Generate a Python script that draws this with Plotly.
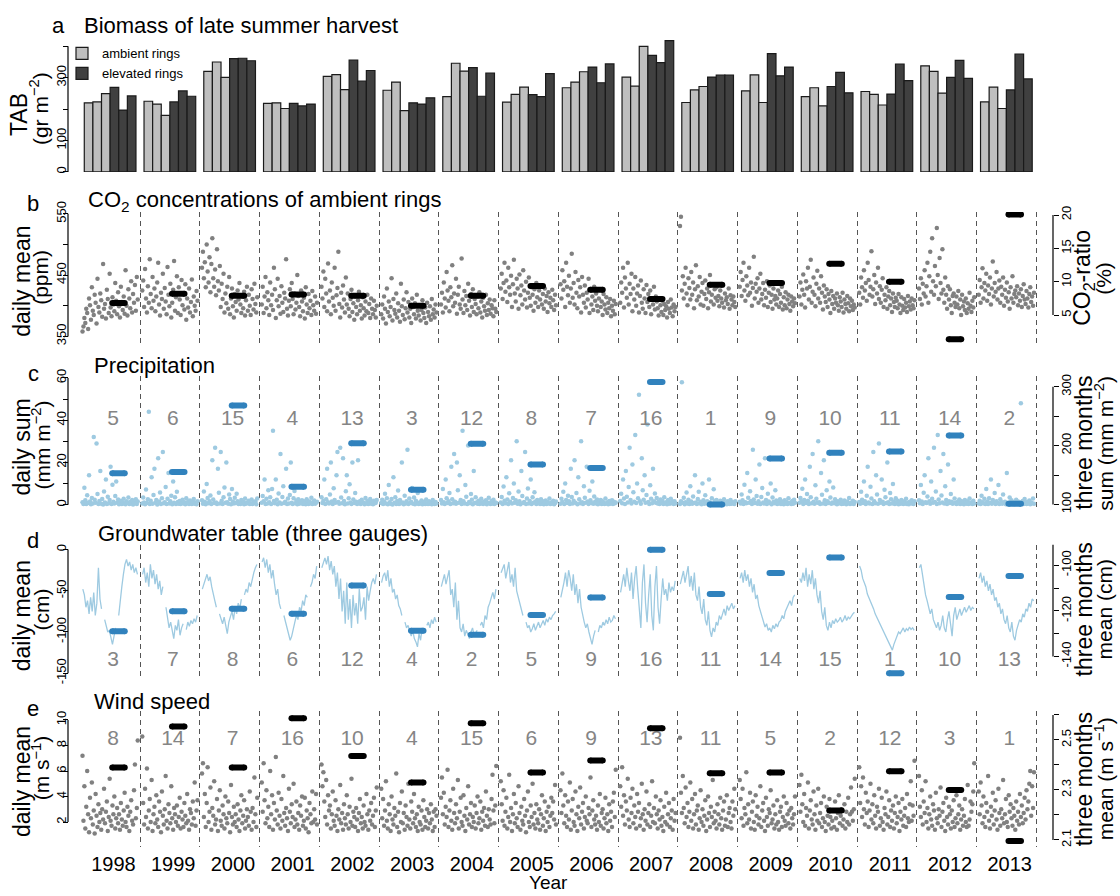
import plotly.graph_objects as go

# ---------------- data ----------------
years = list(range(1998, 2014))
year_labels = [str(y) for y in years]

# panel a: TAB (gr m-2), three ambient and three elevated rings
ambient_1 = [220, 225, 320, 218, 304, 260, 240, 222, 268, 302, 221, 258, 240, 256, 338, 223]
ambient_2 = [223, 216, 350, 220, 310, 286, 346, 247, 286, 273, 261, 309, 268, 247, 320, 270]
ambient_3 = [249, 180, 301, 202, 262, 195, 321, 270, 319, 400, 272, 221, 210, 213, 251, 202]
elevated_1 = [269, 223, 361, 218, 356, 220, 332, 246, 334, 371, 302, 377, 272, 248, 301, 261]
elevated_2 = [197, 258, 362, 210, 289, 216, 241, 240, 284, 348, 308, 306, 317, 343, 355, 375]
elevated_3 = [242, 241, 354, 216, 323, 236, 315, 313, 344, 418, 308, 334, 252, 291, 298, 296]

# yearly summary values (right axes)
co2_ratio = [6.8, 8.2, 7.9, 8.1, 7.9, 6.4, 7.9, 9.35, 8.8, 7.4, 9.55, 9.8, 12.7, 10.0, 1.4, 20.1]
precip_3m = [153, 155, 268, 130, 204, 125, 203, 168, 162, 308, 100, 178, 188, 190, 217, 101]
gw_3m = [-128.9, -120.1, -119.1, -121.2, -108.9, -128.7, -130.5, -121.8, -114.1, -93.2,
         -112.6, -103.4, -96.6, -147.3, -113.9, -104.7]
wind_3m = [2.39, 2.554, 2.39, 2.587, 2.436, 2.33, 2.567, 2.37, 2.418, 2.547, 2.367, 2.37,
           2.218, 2.375, 2.30, 2.096]

rank_precip = [5, 6, 15, 4, 13, 3, 12, 8, 7, 16, 1, 9, 10, 11, 14, 2]
rank_gw = [3, 7, 8, 6, 12, 4, 2, 5, 9, 16, 11, 14, 15, 1, 10, 13]
rank_wind = [8, 14, 7, 16, 10, 4, 15, 6, 9, 13, 11, 5, 2, 12, 3, 1]

# daily CO2 (ppm), sampled through each year
co2_1998 = [358,366,380,372,395,388,362,412,401,377,430,392,385,418,405,371,444,398,389,420,409,382,468,395,403,379,426,411,388,452,397,383,414,402,391,437,408,386,422,399,381,431,406,393,415,387,458,400,384,427,412,396,440,389,419,405,434,392,447,410]
co2_1999 = [425,441,398,460,412,389,432,405,476,419,396,447,408,428,391,415,438,470,402,384,421,411,452,395,429,407,386,463,418,399,436,381,405,426,473,392,414,448,388,430,410,385,442,401,419,394,435,377,412,397,428,389,406,443,383,415,400,392,424,408]
co2_2000 = [462,488,445,471,430,500,456,438,479,422,468,510,445,431,459,417,492,440,425,465,398,436,411,452,389,420,404,431,395,447,386,412,428,399,381,419,406,392,425,410,437,402,388,415,396,423,384,409,431,392,418,400,385,427,411,394,436,403,389,414]
co2_2001 = [402,431,388,415,447,396,422,409,385,438,401,418,393,462,427,380,409,444,399,416,387,432,405,390,421,412,476,395,384,408,427,399,437,411,386,420,394,405,450,416,398,383,425,407,391,413,379,430,402,388,419,396,408,385,424,401,392,415,387,405]
co2_2002 = [431,412,456,398,444,420,391,469,407,425,386,438,413,400,462,392,417,429,488,403,381,421,397,433,410,389,446,402,420,395,383,411,426,390,404,377,415,398,386,409,423,392,401,379,414,396,384,407,391,418,388,403,380,412,395,386,408,393,381,400]
co2_2003 = [386,402,379,415,395,371,428,390,407,383,398,445,376,411,393,387,420,381,404,392,374,436,399,385,410,378,396,422,389,406,381,395,372,412,398,386,404,379,418,392,384,401,376,393,409,388,380,397,372,405,390,383,399,377,411,386,394,381,402,389]
co2_2004 = [402,421,389,438,412,397,455,425,408,391,430,414,466,399,420,405,444,387,418,431,402,395,477,410,388,424,401,416,393,436,408,384,419,398,427,390,411,403,386,415,396,422,389,407,381,413,399,392,418,385,404,393,410,387,401,396,383,409,395,390]
co2_2005 = [428,452,411,437,470,423,441,406,462,430,418,449,398,435,475,420,407,444,428,395,451,417,433,402,458,425,410,439,397,421,446,413,400,430,418,392,427,405,437,414,398,425,410,433,402,419,395,428,407,416,390,422,404,413,398,426,409,393,418,401]
co2_2006 = [435,412,458,426,440,398,470,431,417,449,405,428,485,413,437,402,455,421,396,442,415,430,389,447,418,405,433,397,421,410,444,388,426,402,415,393,431,408,420,400,391,412,426,398,407,385,419,402,394,414,388,405,396,411,383,400,392,408,386,403]
co2_2007 = [405,438,421,462,397,446,428,413,470,402,436,419,452,391,428,410,447,400,420,433,389,416,441,405,395,427,412,388,434,406,419,398,425,386,410,402,431,394,415,407,396,384,412,401,390,408,385,403,393,399,381,406,395,388,410,397,383,402,391,398]
co2_2008 = [530,545,425,448,412,436,462,420,401,445,429,410,455,418,438,396,427,466,409,432,415,447,402,423,437,400,419,441,411,428,396,422,450,407,418,435,402,427,413,430,408,416,399,425,412,405,433,397,420,409,414,403,428,395,417,410,401,415,406,398]
co2_2009 = [431,455,416,442,470,425,408,448,433,417,462,421,438,400,429,480,412,436,423,445,405,428,452,410,419,437,401,426,413,440,398,421,433,406,418,395,428,410,416,402,412,425,398,419,405,431,394,414,401,422,396,410,418,403,392,415,407,399,412,404]
co2_2010 = [415,438,402,426,451,418,397,440,428,462,410,431,475,405,423,446,418,399,436,457,412,428,405,448,421,394,433,415,406,427,398,419,410,388,424,403,416,395,412,405,420,401,392,414,407,398,421,389,410,403,395,416,404,391,412,399,408,393,402,397]
co2_2011 = [421,402,446,430,413,458,425,437,408,470,442,418,431,489,415,427,450,403,438,420,462,411,432,405,426,445,398,418,409,430,395,415,424,401,412,390,420,406,398,413,408,396,419,402,388,414,400,393,411,397,405,390,416,399,407,394,412,401,396,409]
co2_2012 = [428,411,445,402,436,420,458,415,432,470,405,448,488,423,510,440,418,465,432,527,450,411,478,437,420,492,426,405,446,418,395,432,410,427,401,388,416,420,405,398,415,402,424,396,410,385,418,399,407,393,412,388,404,395,421,400,390,408,397,414]
co2_2013 = [418,442,405,430,461,412,437,425,452,408,433,419,446,402,428,472,415,437,423,455,410,428,441,405,431,418,446,400,426,413,438,407,422,395,430,412,448,405,419,425,414,432,401,420,408,427,398,416,435,410,403,424,412,397,419,430,406,415,400,421]

# daily precipitation (mm)
pr_1998 = [1.2,0.4,8,2.1,0.3,4.5,0.8,14,1.5,0.2,3.2,0.6,32,2.4,0.9,29,5.1,0.3,1.8,16,0.5,2.7,0.1,6.3,1.1,12,0.4,3.8,0.7,2.2,18,0.3,9.5,1.4,0.6,4.1,11,0.9,2.5,0.2,0.7,1.9,0.3,1.1,2.8,0.5,0.2,1.6,0.9,3.4,0.4,1.3,0.6,2.2,0.1,1.0,0.8,2.6,0.3,1.5]
pr_1999 = [0.6,3.4,1.1,0.2,7.2,0.8,2.6,44,0.3,1.9,13,0.5,4.6,17,0.9,2.3,0.1,22,1.5,5.8,0.4,3.1,25,0.7,1.2,8.4,0.3,2.8,15,0.6,1.7,4.2,0.2,11,0.9,3.5,0.4,6.1,1.3,0.5,1.8,0.3,0.9,2.4,0.6,1.2,0.2,3.1,0.7,1.5,0.4,2.0,0.8,0.3,1.4,2.7,0.5,1.0,0.2,1.7]
pr_2000 = [2.1,0.5,6.3,1.4,0.2,9.8,3.2,0.7,1.6,4.4,0.3,21,2.5,0.8,27,1.1,0.4,17,5.7,0.6,25,1.9,0.3,3.6,8.2,0.9,20,1.2,0.5,4.8,2.7,0.2,7.4,1.5,0.6,3.3,0.8,5.2,1.7,0.4,1.0,0.3,2.2,0.7,1.4,0.2,2.9,0.5,1.1,0.8,1.9,0.4,0.6,2.5,0.3,1.3,0.9,1.6,0.2,3.0]
pr_2001 = [0.9,4.1,1.6,12,0.3,2.8,0.6,6.9,1.2,3.5,0.4,7.5,35,1.8,0.7,12,2.4,0.2,5.3,1.1,24,0.5,3.7,8.8,0.8,1.4,17,0.3,2.9,0.6,4.6,20,1.0,0.4,3.1,6.5,0.7,1.9,0.2,2.6,0.5,1.3,0.8,2.1,0.3,1.7,0.6,0.2,2.6,1.0,0.4,1.5,0.7,3.3,0.3,1.2,2.0,0.5,0.9,1.4]
pr_2002 = [3.5,0.8,1.9,12,0.4,2.6,17,1.2,0.6,4.9,20,1.5,0.3,7.8,2.2,0.9,14,25,1.3,0.5,27,3.4,0.7,22,1.8,0.2,6.4,14,0.6,3.1,9.7,1.1,0.4,20,2.5,0.8,5.6,1.4,0.3,21,0.7,1.6,0.3,2.4,0.9,1.1,0.2,3.2,0.6,1.8,0.4,0.8,2.7,0.5,1.3,0.2,1.9,0.7,1.0,2.3]
pr_2003 = [0.8,2.4,0.3,1.5,5.2,0.6,3.1,0.2,9.4,1.2,0.5,2.7,0.1,13,0.9,3.6,0.4,1.8,6.7,0.3,2.2,0.7,20,1.1,0.2,4.3,0.6,1.6,26,0.4,2.9,0.8,1.3,7.9,0.5,3.4,0.2,1.9,0.7,5.5,0.3,1.1,0.6,2.0,0.2,0.9,1.4,0.4,2.5,0.7,0.3,1.7,0.5,1.0,0.2,2.2,0.8,0.4,1.3,0.6]
pr_2004 = [2.3,0.6,7.4,1.2,0.4,12,3.1,0.8,1.7,5.6,0.3,18,2.6,0.7,24,1.4,0.5,20,6.8,0.9,14,2.2,0.3,35,1.6,0.6,9.3,3.8,0.4,28,1.3,0.7,5.1,2.4,0.2,16,0.8,3.5,1.1,0.5,1.9,0.4,1.2,2.8,0.6,0.3,1.5,0.9,2.1,0.2,1.0,3.3,0.7,0.4,1.8,0.6,2.4,0.3,1.1,0.8]
pr_2005 = [1.1,3.7,0.4,8.6,1.9,0.7,13,2.5,0.3,5.4,1.4,21,0.6,3.2,10,0.9,2.1,30,0.5,6.3,1.7,0.2,16,4.1,0.8,1.3,25,0.4,2.9,7.7,0.6,1.8,12,0.3,3.6,0.9,5.9,1.5,0.4,2.2,0.8,1.2,0.3,2.6,0.5,1.6,0.2,0.9,2.0,0.4,1.3,0.7,3.0,0.3,1.1,0.6,1.9,0.2,0.8,1.5]
pr_2006 = [0.5,2.8,1.3,6.1,0.4,10,2.2,0.8,4.3,1.6,0.3,17,3.7,0.6,1.9,21,0.9,5.5,0.2,13,2.6,0.7,30,1.2,0.4,8.7,3.3,0.9,18,1.5,0.3,6.6,2.1,0.8,11,0.5,3.9,1.4,0.6,2.5,0.2,1.0,0.7,2.3,0.4,1.6,0.9,0.3,2.9,0.6,1.2,0.2,1.8,0.5,0.8,2.1,0.3,1.4,0.7,1.1]
pr_2007 = [1.8,5.2,0.7,12,2.9,0.4,16,3.8,1.1,8.4,27,2.3,0.6,19,5.9,1.4,33,0.8,10,3.1,52,1.7,0.5,22,6.8,2.4,14,0.9,4.6,38,1.3,0.3,9.2,2.8,0.7,17,1.6,5.3,0.9,3.2,0.6,1.4,0.3,2.5,0.9,1.9,0.4,3.6,0.7,1.2,0.2,2.2,1.0,0.5,2.8,0.8,1.5,0.3,1.7,0.6]
pr_2008 = [0.4,1.6,58,0.9,3.3,0.2,1.2,5.8,0.6,2.4,0.3,8.7,1.5,0.5,3.9,0.8,14,1.1,0.3,2.7,6.2,0.7,1.4,0.2,10,2.1,0.5,4.5,0.9,1.7,0.3,12,1.2,0.6,3.1,0.4,7.3,1.8,0.8,2.3,0.5,1.0,0.2,1.9,0.6,0.3,1.4,2.6,0.4,0.9,0.2,1.7,0.7,0.3,2.2,0.5,1.2,0.8,0.4,1.6]
pr_2009 = [1.4,0.6,4.8,2.1,0.3,9.5,1.2,0.7,15,3.3,0.9,6.4,1.8,0.4,26,2.5,0.8,12,4.1,0.5,1.6,19,0.3,3.7,7.9,1.1,0.6,22,2.3,0.4,5.2,1.5,0.8,10,0.2,3.4,1.3,0.7,6.8,2.0,0.4,1.1,0.7,2.6,0.3,1.5,0.9,0.2,2.1,0.6,1.3,0.4,3.1,0.8,1.0,0.3,1.8,0.5,2.4,0.9]
pr_2010 = [0.9,3.2,1.5,7.6,0.4,2.3,12,0.8,5.1,1.9,0.3,18,3.6,0.7,24,1.4,0.5,9.2,2.8,0.9,30,1.2,0.4,15,4.7,0.6,21,2.1,0.3,6.9,1.6,0.8,11,3.4,0.5,1.1,8.1,0.7,2.6,1.3,0.2,1.7,0.6,0.9,2.4,0.3,1.2,0.5,2.0,0.8,0.2,1.5,0.7,3.2,0.4,1.0,0.6,1.9,0.3,1.3]
pr_2011 = [1.3,0.5,6.2,2.4,0.8,11,1.6,0.4,4.3,18,1.1,0.6,8.5,2.9,0.3,25,1.7,0.7,14,4.8,0.5,29,2.2,0.9,12,1.4,0.4,7.1,3.5,0.8,20,1.2,0.3,5.6,2.6,0.6,9.8,1.5,0.4,3.1,0.7,1.9,0.2,1.2,0.5,2.3,0.9,0.3,1.6,0.6,2.8,0.4,1.0,0.2,1.4,0.8,2.1,0.5,0.3,1.7]
pr_2012 = [2.1,0.7,9.4,1.5,0.4,5.7,14,1.2,0.8,3.9,22,1.6,0.5,11,2.8,0.9,27,1.3,6.3,0.4,33,2.5,0.7,16,4.4,1.1,24,0.6,8.8,2.2,0.3,19,1.7,0.8,5.1,1.4,0.5,12,2.9,0.9,0.4,1.3,0.7,2.5,0.3,1.8,0.6,1.0,0.2,2.2,0.9,0.5,1.6,0.3,2.9,0.7,1.1,0.4,1.9,0.6]
pr_2013 = [0.6,1.9,0.3,4.2,1.2,0.7,2.8,0.4,7.5,1.5,0.3,3.1,0.9,12,0.5,2.2,1.1,5.6,0.4,1.7,0.8,9.3,0.3,2.6,1.3,0.5,4.8,0.9,1.4,0.2,15,1.0,0.6,3.4,0.7,2.1,0.4,1.2,0.2,0.9,2.4,0.6,1.5,0.3,1.0,48,0.5,1.8,0.3,2.7,0.8,0.4,1.3,0.6,2.0,0.2,1.1,0.7,3.0,0.5]

# daily groundwater table (cm), None = missing record
gw_1998 = [-48,-55,-70,-62,-78,-58,-75,-52,-80,-65,-22,-60,-72,None,-85,-92,-100,-98,-108,-115,-105,-95,None,-80,-60,-45,-30,-18,-12,-20,-15,-25,-18,-28,-22,-30]
gw_1999 = [-30,-22,-40,-28,-45,-18,-35,-25,-42,-30,-48,-38,-55,-45,None,-70,-82,-95,-88,-100,-108,-92,-98,-85,-104,-95,-90,None,-97,-88,-93,-86,-90,-84,-88,-80]
gw_2000 = [-48,-42,-35,-30,-38,-33,-45,-55,-62,-70,None,-78,-85,-90,-82,-95,-102,-88,-80,-75,-85,-70,-78,-65,-72,-60,None,-55,-48,-52,-40,-45,-35,-28,-22,-18]
gw_2001 = [-15,-10,-22,-12,-28,-18,-35,-25,-42,-55,-48,-65,-72,None,-80,-88,-95,-102,-110,-105,-98,-88,-80,-85,-70,-75,-62,-68,-55,-58,None,-45,-40,-30,-35,-20]
gw_2002 = [-22,-15,-10,-18,-8,-25,-14,-30,-20,-45,-28,-60,-35,-75,-50,-90,-40,-85,-60,-95,-55,-80,-65,-90,-48,-75,-70,-58,-85,-45,-62,-50,-40,-35,-42,-30]
gw_2003 = [-40,-32,-28,-38,-25,-45,-35,-52,-48,-60,-55,-68,-72,-80,None,-88,-95,-92,-100,-105,-98,-108,-112,-118,-102,-110,-95,-100,None,-92,-88,-95,-85,-90,-82,-88]
gw_2004 = [-45,-38,-30,-42,-35,-25,-55,-48,-70,-40,-85,-62,-95,-100,-90,-105,-98,-102,-108,-100,-95,-104,-100,-98,None,-92,-88,-95,-80,-85,-70,-65,-58,-52,-60,-48]
gw_2005 = [-28,-22,-18,-35,-25,-15,-40,-30,-45,-22,-50,-58,-65,-72,-80,None,-88,-95,-92,-100,-96,-90,-98,-93,-88,-95,-90,-86,-92,-84,-88,-82,-85,-80,-78,-75]
gw_2006 = [-58,-50,-40,-28,-45,-25,-35,-50,-30,-55,-42,-65,-48,-70,-80,-88,-95,-90,-100,-108,-115,-105,-98,None,-100,-92,-95,-88,-92,-85,-90,-82,-88,-86,-80,-84]
gw_2007 = [-52,-40,-30,-45,-22,-38,-50,-28,-60,-35,-20,-48,-75,-95,-40,-18,-65,-88,-55,-30,-80,-98,-45,-20,-70,-90,-60,-35,-55,-48,-62,-40,-52,-45,-50,-38]
gw_2008 = [-42,-35,-26,-40,-30,-20,-45,-32,-50,-28,-55,-62,-45,-70,-78,-60,-85,-92,-75,-98,-106,-95,-100,-88,-92,-80,-85,-78,-72,-80,-68,-74,-70,-65,-72,-68]
gw_2009 = [-35,-28,-40,-25,-38,-30,-45,-35,-52,-42,-60,-55,-68,-75,-82,-88,-94,-90,-98,-95,-100,-92,-96,-90,-94,-88,-86,-80,-84,-75,-70,-65,-62,-68,-58,-55]
gw_2010 = [-35,-40,-28,-38,-22,-45,-30,-42,-25,-48,-35,-55,-65,-50,-75,-85,-70,-92,-98,-88,-95,-86,-90,-84,-88,-86,-82,-88,-85,-80,-86,-82,-84,-80,-78,-76]
gw_2011 = [-20,-25,-35,-40,-45,-54,-58,-62,-68,-72,-78,-82,-86,-90,-95,-98,-102,-106,-110,-114,-118,-122,-115,-110,-105,-100,-102,-98,-95,-100,-96,-98,-94,-97,-95,-98]
gw_2012 = [-22,-18,-30,-45,-55,-62,-70,-78,-72,-85,-90,-95,-88,-98,-92,-80,-95,-100,-85,-75,-90,-105,-80,-70,-85,-78,-72,-80,-74,-70,-76,-72,-68,-74,-70,-72]
gw_2013 = [-35,-28,-40,-32,-45,-38,-50,-42,-55,-48,-62,-58,-70,-65,-78,-72,-85,-90,-80,-95,-100,-88,-105,-110,-98,-92,-85,-88,-78,-82,-72,-75,-65,-70,-60,-62]

# daily wind speed (m s-1)
wd_1998 = [7.2,2.1,4.8,1.5,3.2,6.0,2.6,1.2,3.9,2.3,5.1,1.8,2.9,1.1,4.2,2.5,1.6,3.4,2.0,2.7,1.4,3.0,2.2,4.6,1.9,2.8,3.6,1.3,2.4,5.4,2.1,1.7,3.3,2.6,4.0,1.5,2.3,3.1,1.9,2.6,1.4,3.5,2.2,1.7,2.9,4.3,2.0,1.6,3.2,2.5,1.3,2.8,3.7,2.1,1.8,4.5,6.5,2.3,3.1,8.4]
wd_1999 = [8.7,3.5,1.8,4.6,2.4,6.2,1.5,2.9,3.8,2.0,5.3,1.3,2.6,3.2,1.9,4.1,2.2,1.6,3.6,2.8,1.2,4.4,2.5,1.8,3.0,5.6,2.1,1.5,3.4,2.7,1.9,4.8,2.3,1.4,3.1,2.6,2.0,3.3,1.7,2.4,3.9,1.5,2.8,2.2,1.6,3.5,2.5,1.9,4.2,2.1,1.4,3.0,2.7,1.8,3.6,2.3,5.1,1.7,2.9,3.7]
wd_2000 = [5.8,6.6,2.4,4.2,1.6,3.5,6.3,2.0,2.8,4.7,1.4,3.1,2.5,5.2,1.8,2.2,3.8,1.3,2.9,4.5,2.1,1.7,3.3,2.6,1.5,4.0,2.3,1.9,3.6,2.7,1.2,4.9,2.4,1.8,3.2,2.0,2.6,1.6,3.4,2.2,1.3,2.9,4.1,1.9,2.5,3.7,1.5,2.1,3.0,2.4,1.7,4.4,2.8,1.4,3.1,2.0,5.5,2.6,1.6,3.9]
wd_2001 = [5.1,2.8,6.6,3.7,1.9,4.5,2.3,3.2,1.6,6.0,2.6,4.1,1.4,3.5,2.2,7.1,2.9,1.8,4.3,2.5,1.5,3.8,2.1,5.6,2.7,1.7,3.1,2.3,1.3,4.6,2.8,1.9,3.4,2.4,5.0,1.6,2.2,3.6,1.8,2.7,1.4,3.3,2.5,4.0,1.7,2.1,3.9,1.5,2.9,2.3,1.2,3.5,2.6,1.9,4.4,2.0,3.0,2.2,4.2,1.8]
wd_2002 = [6.5,4.8,5.9,3.6,2.4,5.3,1.8,4.1,2.9,3.3,1.5,2.6,4.4,2.1,1.7,3.7,2.5,1.3,3.0,2.2,4.9,1.9,2.7,1.4,3.4,2.3,1.8,4.1,2.6,1.5,3.2,2.0,5.4,1.7,2.8,2.4,1.6,3.1,2.2,1.3,2.7,3.8,1.9,2.4,1.5,3.3,2.0,1.7,4.2,2.6,1.4,2.9,2.1,3.5,1.8,2.5,3.9,1.6,2.9,4.7]
wd_2003 = [4.6,2.3,3.8,1.7,2.9,5.2,2.1,1.5,3.4,2.6,1.3,4.0,2.2,1.8,3.1,2.5,5.8,1.6,2.8,1.2,3.5,2.0,4.4,1.9,2.7,1.4,3.3,2.4,1.7,5.0,2.2,1.5,3.6,2.8,1.9,4.2,2.3,1.6,2.6,1.3,3.2,2.0,1.8,2.9,1.4,3.7,2.4,1.6,2.1,3.0,1.5,2.7,1.9,3.4,2.2,1.3,2.8,1.6,3.0,2.5]
wd_2004 = [3.9,5.5,2.6,4.3,1.8,3.2,2.4,6.1,1.6,2.9,3.7,2.1,1.4,4.6,2.7,1.9,3.4,2.3,5.3,1.5,2.8,3.9,2.0,1.7,4.1,2.5,1.3,3.1,2.2,4.8,1.8,2.6,3.5,1.6,2.4,2.0,3.3,1.5,2.7,4.0,1.9,2.3,3.6,1.4,2.8,2.1,3.1,1.7,4.4,2.5,1.6,3.0,2.2,1.8,3.8,5.7,2.9,1.9,3.3,6.4]
wd_2005 = [5.2,3.4,2.1,4.5,1.7,2.8,3.9,1.5,2.4,5.7,2.0,3.1,1.3,2.6,4.2,1.9,3.5,2.3,1.6,4.8,2.7,1.4,3.2,2.1,1.8,3.8,2.5,1.2,2.9,4.4,2.0,1.6,3.3,2.4,5.0,1.8,2.7,1.5,3.4,2.2,1.9,3.0,1.4,2.6,4.1,1.7,2.3,3.6,1.3,2.8,2.0,3.2,1.6,2.5,3.9,2.7,3.6,2.2,4.9,1.8]
wd_2006 = [4.5,2.7,5.8,3.3,1.9,4.1,2.5,1.6,3.6,2.2,5.1,1.4,2.9,3.8,2.0,1.7,4.4,2.6,1.3,3.2,2.3,4.7,1.8,2.8,3.5,1.5,2.4,4.0,2.1,1.9,3.1,2.6,5.5,1.6,2.9,3.7,2.2,1.8,2.5,1.4,3.3,2.0,4.2,1.7,2.7,3.0,1.5,2.3,3.9,1.9,2.6,1.3,3.4,2.1,2.8,1.6,3.6,4.3,2.4,6.1]
wd_2007 = [4.8,3.2,6.3,2.5,4.1,1.8,3.6,2.9,5.4,2.2,1.6,3.9,2.7,4.6,1.9,3.3,2.4,1.5,4.2,2.8,3.5,1.7,2.3,5.0,2.6,1.4,3.0,2.1,4.4,1.8,2.7,3.4,1.6,2.5,5.2,2.0,3.1,1.9,4.0,2.6,1.5,2.9,2.2,3.7,1.7,2.4,1.3,3.2,2.0,4.3,1.8,2.6,3.5,1.6,2.3,2.9,1.4,3.8,2.1,2.7]
wd_2008 = [8.6,4.3,2.7,5.6,3.1,1.9,4.7,2.4,3.5,1.6,2.8,5.1,2.1,3.8,1.5,2.6,4.2,1.8,2.9,3.3,1.4,2.3,4.5,2.0,3.0,1.7,2.5,3.7,1.3,2.2,4.0,2.7,1.6,3.2,2.4,5.3,1.9,2.8,2.1,1.5,3.4,2.6,1.8,3.9,2.3,1.4,2.9,3.6,1.7,2.2,4.1,1.6,2.7,3.1,2.0,1.5,3.6,2.5,4.6,3.0]
wd_2009 = [5.3,3.8,2.3,4.6,1.7,3.1,2.6,5.9,1.9,3.4,2.2,4.3,1.5,2.8,3.6,2.0,1.4,4.1,2.5,3.2,1.8,2.3,4.8,1.6,2.9,3.5,2.1,1.3,3.9,2.4,1.7,3.0,2.7,4.5,1.9,2.2,3.3,1.5,2.6,1.8,3.7,2.0,1.4,2.8,3.2,1.6,2.4,4.0,2.1,1.7,3.5,2.6,1.9,2.9,1.5,3.1,2.3,1.8,2.6,4.0]
wd_2010 = [4.9,2.8,5.7,3.4,2.0,4.2,1.7,3.1,2.5,5.1,1.5,2.9,3.7,2.2,1.8,4.4,2.6,1.4,3.3,2.1,4.6,1.9,2.7,3.5,1.6,2.3,4.0,2.0,1.3,3.2,2.5,1.8,3.8,2.4,1.5,2.1,2.9,1.6,3.6,2.3,1.4,2.7,4.1,1.9,2.5,3.0,1.7,2.2,3.4,1.5,2.8,2.0,3.9,1.8,2.6,4.7,2.8,2.1,3.0,5.4]
wd_2011 = [6.3,3.5,4.8,2.4,5.5,3.0,1.8,4.3,2.7,3.6,1.6,2.9,5.0,2.2,3.4,1.9,4.1,2.5,1.5,3.2,2.8,4.6,1.7,2.3,3.9,2.0,1.4,3.1,2.6,4.4,1.8,2.4,3.7,1.6,2.9,2.1,3.3,1.5,2.7,4.0,1.9,2.4,3.5,1.3,2.8,2.2,3.8,1.7,2.5,3.1,1.6,4.2,2.3,2.0,3.4,5.2,2.1,3.3,2.5,6.8]
wd_2012 = [5.6,3.2,2.4,4.5,1.8,3.6,2.7,5.2,2.0,3.1,1.5,2.6,4.0,2.2,1.7,3.4,2.9,1.4,4.3,2.3,1.9,3.0,2.5,4.7,1.6,2.8,3.5,2.1,1.3,3.9,2.4,1.8,3.2,2.6,1.5,2.9,2.0,3.7,1.6,2.3,4.1,1.9,2.6,3.3,1.4,2.2,3.0,1.7,2.5,3.8,2.0,1.6,4.9,1.7,2.2,3.6,2.8,3.4,4.4,6.6]
wd_2013 = [4.4,2.6,5.1,3.3,1.9,4.0,2.4,1.6,3.5,2.8,5.6,2.1,1.5,3.2,2.5,4.3,1.8,2.9,3.7,2.2,1.4,4.6,2.7,1.7,3.0,2.3,5.3,1.9,2.6,3.8,2.0,1.6,4.1,2.8,3.4,2.3,1.7,3.1,2.5,1.4,3.6,2.1,2.8,1.8,4.2,2.4,3.3,1.9,2.7,3.9,2.2,4.5,3.0,3.6,5.0,6.0,2.5,4.8,3.1,5.9]

co2_daily = [co2_1998, co2_1999, co2_2000, co2_2001, co2_2002, co2_2003, co2_2004, co2_2005,
             co2_2006, co2_2007, co2_2008, co2_2009, co2_2010, co2_2011, co2_2012, co2_2013]
precip_daily = [pr_1998, pr_1999, pr_2000, pr_2001, pr_2002, pr_2003, pr_2004, pr_2005,
                pr_2006, pr_2007, pr_2008, pr_2009, pr_2010, pr_2011, pr_2012, pr_2013]
gw_daily = [gw_1998, gw_1999, gw_2000, gw_2001, gw_2002, gw_2003, gw_2004, gw_2005,
            gw_2006, gw_2007, gw_2008, gw_2009, gw_2010, gw_2011, gw_2012, gw_2013]
wind_daily = [wd_1998, wd_1999, wd_2000, wd_2001, wd_2002, wd_2003, wd_2004, wd_2005,
              wd_2006, wd_2007, wd_2008, wd_2009, wd_2010, wd_2011, wd_2012, wd_2013]

# ---------------- layout helpers ----------------
W, H = 1120, 896
FONT = "Liberation Sans, Arial, Helvetica, sans-serif"
GREY_PT = "#808080"
LBLUE = "#9ecae1"
DBLUE = "#3182bd"
RANK_GREY = "#858585"


def fx(p):
    return p / W


def fy(p):
    return 1 - p / H


X_L, X_R = 70, 1050
X0_PX, YR_PX = 80.25, 59.75
x_range = [1998 + (X_L - X0_PX) / YR_PX, 1998 + (X_R - X0_PX) / YR_PX]


def yrange(top_px, bot_px, pa, va, pb, vb):
    s = (va - vb) / (pa - pb)
    return [va + (bot_px - pa) * s, va + (top_px - pa) * s]


def daily_xy(series_by_year):
    xs, ys = [], []
    for yr, vals in zip(years, series_by_year):
        n = len(vals)
        for i, v in enumerate(vals):
            xs.append(yr + 0.03 + 0.94 * (i + 0.5) / n)
            ys.append(v)
        xs.append(None)
        ys.append(None)
    return xs, ys


def summary_xy(vals):
    xs, ys = [], []
    for yr, v in zip(years, vals):
        xs += [yr + 0.535, yr + 0.745, None]
        ys += [v, v, None]
    return xs, ys


fig = go.Figure()

# ---- panel a: bars ----
bar_series = [(ambient_1, "#bfbfbf", "ambient rings", True),
              (ambient_2, "#bfbfbf", "ambient rings", False),
              (ambient_3, "#bfbfbf", "ambient rings", False),
              (elevated_1, "#404040", "elevated rings", True),
              (elevated_2, "#404040", "elevated rings", False),
              (elevated_3, "#404040", "elevated rings", False)]
BW = 0.1442
for i, (vals, col, name, sl) in enumerate(bar_series):
    fig.add_trace(go.Bar(
        x=[y + 0.5 for y in years], y=vals, width=BW, offset=-3 * BW + i * BW,
        marker=dict(color=col, line=dict(color="#1a1a1a", width=1.2)),
        name=name, legendgroup=name, showlegend=sl, xaxis="x", yaxis="y"))

# ---- panel b: CO2 ----
xs, ys = daily_xy(co2_daily)
fig.add_trace(go.Scatter(x=xs, y=ys, mode="markers", marker=dict(size=4.5, color=GREY_PT),
                         showlegend=False, xaxis="x2", yaxis="y2"))
xs, ys = summary_xy(co2_ratio)
fig.add_trace(go.Scatter(x=xs, y=ys, mode="lines+markers", line=dict(color="black", width=6),
                         marker=dict(size=6, color="black"), showlegend=False,
                         xaxis="x2", yaxis="y6"))

# ---- panel c: precipitation ----
xs, ys = daily_xy(precip_daily)
fig.add_trace(go.Scatter(x=xs, y=ys, mode="markers", marker=dict(size=4.5, color=LBLUE),
                         showlegend=False, xaxis="x3", yaxis="y3"))
xs, ys = summary_xy(precip_3m)
fig.add_trace(go.Scatter(x=xs, y=ys, mode="lines+markers", line=dict(color=DBLUE, width=6),
                         marker=dict(size=6, color=DBLUE), showlegend=False,
                         xaxis="x3", yaxis="y7"))
fig.add_trace(go.Scatter(x=[y + 0.55 for y in years], y=[40] * len(years), mode="text",
                         text=[str(r) for r in rank_precip],
                         textfont=dict(size=21, color=RANK_GREY, family=FONT),
                         showlegend=False, xaxis="x3", yaxis="y3"))

# ---- panel d: groundwater ----
xs, ys = daily_xy(gw_daily)
fig.add_trace(go.Scatter(x=xs, y=ys, mode="lines", line=dict(color=LBLUE, width=1.3),
                         connectgaps=False, showlegend=False, xaxis="x4", yaxis="y4"))
xs, ys = summary_xy(gw_3m)
fig.add_trace(go.Scatter(x=xs, y=ys, mode="lines+markers", line=dict(color=DBLUE, width=6),
                         marker=dict(size=6, color=DBLUE), showlegend=False,
                         xaxis="x4", yaxis="y8"))
fig.add_trace(go.Scatter(x=[y + 0.55 for y in years], y=[-134.5] * len(years), mode="text",
                         text=[str(r) for r in rank_gw],
                         textfont=dict(size=21, color=RANK_GREY, family=FONT),
                         showlegend=False, xaxis="x4", yaxis="y4"))

# ---- panel e: wind ----
xs, ys = daily_xy(wind_daily)
fig.add_trace(go.Scatter(x=xs, y=ys, mode="markers", marker=dict(size=4.5, color=GREY_PT),
                         showlegend=False, xaxis="x5", yaxis="y5"))
xs, ys = summary_xy(wind_3m)
fig.add_trace(go.Scatter(x=xs, y=ys, mode="lines+markers", line=dict(color="black", width=6),
                         marker=dict(size=6, color="black"), showlegend=False,
                         xaxis="x5", yaxis="y9"))
fig.add_trace(go.Scatter(x=[y + 0.55 for y in years], y=[8.45] * len(years), mode="text",
                         text=[str(r) for r in rank_wind],
                         textfont=dict(size=21, color=RANK_GREY, family=FONT),
                         showlegend=False, xaxis="x5", yaxis="y5"))

# ---------------- axes ----------------
boundaries = [y + 1 for y in years]
xdom = [fx(X_L), fx(X_R)]


def xaxis_def(anchor, grid, labels=False):
    d = dict(domain=xdom, range=x_range, anchor=anchor, showline=False, zeroline=False,
             showgrid=False, ticks="", fixedrange=True)
    if labels:
        d.update(tickmode="array", tickvals=[y + 0.555 for y in years], ticktext=year_labels,
                 showticklabels=True, ticklabelstandoff=3,
                 tickfont=dict(size=20, color="black", family=FONT))
    else:
        d.update(showticklabels=False)
    if grid:
        d["minor"] = dict(tickmode="array", tickvals=boundaries, showgrid=True,
                          gridcolor="#555555", gridwidth=1.3, griddash="5px,4px", ticks="")
    return d


LEFT_POS = fx(68)
RIGHT_POS = fx(1053)
TICKFONT = dict(size=13, color="black", family=FONT)


def minor_ticks(vals):
    return dict(tickmode="array", tickvals=vals, ticks="outside", ticklen=5, tickwidth=1,
                tickcolor="black", showgrid=False)


def yaxis_left(dom_top, dom_bot, rng, tickvals, minor_vals):
    d = dict(domain=[fy(dom_bot), fy(dom_top)], range=rng, anchor="free", position=LEFT_POS,
             side="left", showline=False, zeroline=False, showgrid=False, ticks="outside",
             ticklen=5, tickwidth=1, tickcolor="black", tickmode="array", tickvals=tickvals,
             ticktext=[str(v) for v in tickvals], tickangle=-90, tickfont=TICKFONT,
             ticklabelstandoff=-8, fixedrange=True)
    if minor_vals:
        d["minor"] = minor_ticks(minor_vals)
    return d


def yaxis_right(over, rng, tickvals, ticktext, minor_vals):
    d = dict(overlaying=over, range=rng, anchor="free", position=RIGHT_POS, side="right",
             showline=False, zeroline=False, showgrid=False, ticks="outside", ticklen=5,
             tickwidth=1, tickcolor="black", tickmode="array", tickvals=tickvals,
             ticktext=ticktext, tickangle=-90, tickfont=TICKFONT, ticklabelstandoff=-4,
             fixedrange=True)
    if minor_vals:
        d["minor"] = minor_ticks(minor_vals)
    return d


# panel geometry (pixel calibrations)
ya_rng = yrange(28, 164, 164, 0, 68, 300)
yb_rng = yrange(205, 340, 206.7, 550, 331.7, 350)
yb_r_rng = yrange(205, 340, 208, 20, 310, 5)
yc_rng = yrange(372, 507, 374, 60, 503.3, 0)
yc_r_rng = yrange(372, 507, 383, 300, 503, 100)
yd_rng = yrange(544, 680, 549, 0, 675, -150)
yd_r_rng = yrange(544, 680, 565, -100, 658, -140)
ye_rng = yrange(714, 852, 722.7, 10, 826.7, 2)
ye_r_rng = yrange(714, 852, 743, 2.5, 845, 2.1)

fig.update_layout(
    xaxis=xaxis_def("y", False),
    xaxis2=xaxis_def("y2", True),
    xaxis3=xaxis_def("y3", True),
    xaxis4=xaxis_def("y4", True),
    xaxis5=xaxis_def("y5", True, labels=True),
    yaxis=yaxis_left(28, 164, ya_rng, [0, 100, 300], [200, 400]),
    yaxis2=yaxis_left(205, 340, yb_rng, [350, 450, 550], [400, 500]),
    yaxis3=yaxis_left(372, 507, yc_rng, [0, 20, 40, 60], [10, 30, 50]),
    yaxis4=yaxis_left(544, 680, yd_rng, [-150, -100, -50, 0], None),
    yaxis5=yaxis_left(714, 852, ye_rng, [2, 4, 6, 8, 10], None),
    yaxis6=yaxis_right("y2", yb_r_rng, [5, 10, 15, 20], ["5", "10", "15", "20"], None),
    yaxis7=yaxis_right("y3", yc_r_rng, [100, 200, 300], ["100", "200", "300"], [150, 250]),
    yaxis8=yaxis_right("y4", yd_r_rng, [-140, -120, -100], ["-140", "-120", "-100"],
                       [-130, -110, -90]),
    yaxis9=yaxis_right("y5", ye_r_rng, [2.1, 2.3, 2.5], ["2.1", "2.3", "2.5"],
                       [2.2, 2.4, 2.6]),
)

# axis lines spanning first to last tick (R style)
axis_lines = [("y", 68, 0, 400), ("y2", 68, 350, 550), ("y3", 68, 0, 60), ("y4", 68, -150, 0),
              ("y5", 68, 2, 10), ("y6", 1053, 5, 20), ("y7", 1053, 100, 300),
              ("y8", 1053, -140, -90), ("y9", 1053, 2.1, 2.6)]
shapes = []
for ref, xp, v0, v1 in axis_lines:
    shapes.append(dict(type="line", xref="paper", yref=ref, x0=fx(xp), x1=fx(xp), y0=v0, y1=v1,
                       line=dict(color="black", width=1.2)))

# ---------------- text ----------------
ann = []


def txt(x, y, s, size=22, angle=0, anchor="center", color="black"):
    ann.append(dict(x=fx(x), y=fy(y), xref="paper", yref="paper", text=s, showarrow=False,
                    textangle=angle, xanchor=anchor, yanchor="middle",
                    font=dict(size=size, color=color, family=FONT)))


# panel letters and titles
txt(58, 15, "a", 22)
txt(82, 15, "Biomass of late summer harvest", 22, anchor="left")
txt(33, 196, "b", 22)
txt(86, 194, "CO<sub>2</sub> concentrations of ambient rings", 22, anchor="left")
txt(33, 370, "c", 22)
txt(92, 361, "Precipitation", 22, anchor="left")
txt(33, 540, "d", 22)
txt(96, 533, "Groundwater table (three gauges)", 22, anchor="left")
txt(33, 711, "e", 22)
txt(92, 704, "Wind speed", 22, anchor="left")

# left axis titles
txt(19, 106, "TAB", 23, angle=-90)
txt(39, 100, "(gr m<sup>\u22122</sup>)", 21, angle=-90)
txt(22, 276, "daily mean", 23, angle=-90)
txt(41, 272, "(ppm)", 21, angle=-90)
txt(22, 445, "daily sum", 23, angle=-90)
txt(41, 443, "(mm m<sup>\u22122</sup>)", 21, angle=-90)
txt(22, 617, "daily mean", 23, angle=-90)
txt(41, 610, "(cm)", 21, angle=-90)
txt(22, 786, "daily mean", 23, angle=-90)
txt(41, 772, "(m s<sup>\u22121</sup>)", 21, angle=-90)

# right axis titles
txt(1084, 272, "CO<sub>2</sub>-ratio", 23, angle=-90)
txt(1104, 273, "(%)", 21, angle=-90)
txt(1084, 440, "three months", 23, angle=-90)
txt(1104, 441, "sum (mm m<sup>\u22122</sup>)", 21, angle=-90)
txt(1084, 610, "three months", 23, angle=-90)
txt(1104, 610, "mean (cm)", 21, angle=-90)
txt(1084, 783, "three months", 23, angle=-90)
txt(1104, 783, "mean (m s<sup>\u22121</sup>)", 21, angle=-90)

# x axis title
txt(548, 888, "Year", 19)

fig.update_layout(
    width=W, height=H, autosize=False,
    margin=dict(l=0, r=0, t=0, b=0),
    paper_bgcolor="white", plot_bgcolor="white",
    font=dict(family=FONT, color="black"),
    barmode="overlay",
    showlegend=True,
    legend=dict(x=fx(62), y=fy(28), xanchor="left", yanchor="top",
                bgcolor="rgba(0,0,0,0)", font=dict(size=13, family=FONT),
                tracegroupgap=0, itemwidth=30),
    shapes=shapes,
    annotations=ann,
)

fig.write_html("out.html")
